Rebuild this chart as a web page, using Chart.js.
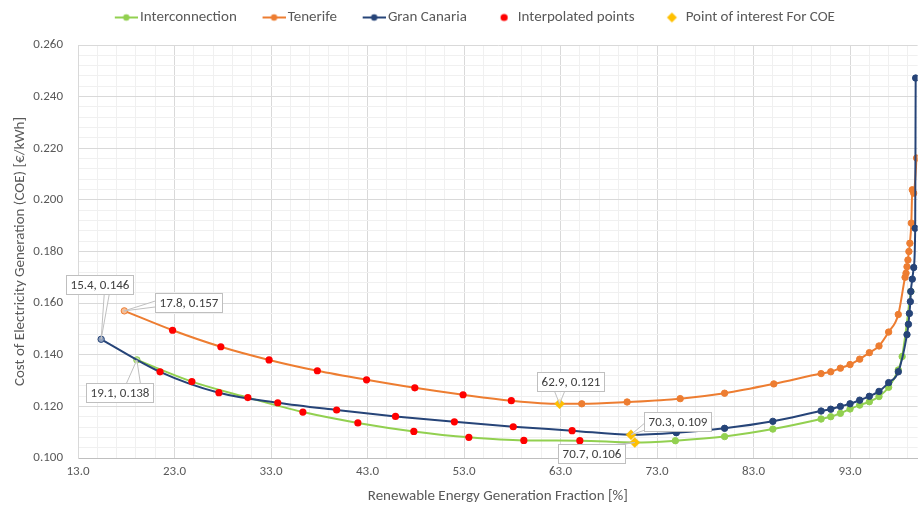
<!DOCTYPE html>
<html>
<head>
<meta charset="utf-8">
<title>Cost of electricity generation vs renewable fraction</title>
<script src="https://cdn.jsdelivr.net/npm/chart.js@4.4.1/dist/chart.umd.min.js"></script>
<style>
  html, body { margin: 0; padding: 0; background: #ffffff; }
  #wrap { width: 921px; height: 508px; }
</style>
</head>
<body>
<div id="wrap"><canvas id="chart" width="921" height="508"></canvas></div>
<script>
// ---- Data: renewable energy fraction [%] vs cost of electricity generation [€/kWh] ----

// Interconnection scenario
const interconnectionStart = [19.1, 0.138];
const interconnectionInterp = [[24.8, 0.1296], [30.6, 0.1234], [36.3, 0.1178], [42.0, 0.1136],
  [47.8, 0.1103], [53.5, 0.1080], [59.2, 0.1068], [65.0, 0.1067]];
const interconnectionPOI = [70.7, 0.106];
const interconnectionTail = [[74.9, 0.1067], [80.0, 0.1083], [85.0, 0.1112], [90.0, 0.1151],
  [91.0, 0.1160], [92.0, 0.1173], [93.0, 0.1190], [94.0, 0.1205], [95.0, 0.1218], [96.0, 0.1238],
  [97.0, 0.1274], [98.0, 0.1341], [98.4, 0.1393], [99.3, 0.1645]];

// Tenerife
const tenerifeStart = [17.8, 0.157];
const tenerifeInterp = [[22.8, 0.1495], [27.8, 0.1431], [32.8, 0.1380], [37.8, 0.1338],
  [42.9, 0.1303], [47.9, 0.1272], [52.9, 0.1245], [57.9, 0.1222]];
const tenerifePOI = [62.9, 0.121];
const tenerifeTail = [[65.2, 0.1210], [69.9, 0.1217], [75.4, 0.1230], [80.0, 0.1251], [85.1, 0.1287],
  [90.0, 0.1327], [91.0, 0.1334], [92.0, 0.1348], [93.0, 0.1362], [94.0, 0.1383], [95.0, 0.1408],
  [96.0, 0.1434], [97.0, 0.1488], [98.0, 0.1556], [98.7, 0.1700], [98.8, 0.1716], [98.9, 0.1741],
  [99.0, 0.1767], [99.1, 0.1800], [99.2, 0.1832], [99.35, 0.1910], [99.45, 0.2039], [99.6, 0.2026],
  [99.9, 0.2162]];

// Gran Canaria
const granCanariaStart = [15.4, 0.146];
const granCanariaInterp = [[21.5, 0.1334], [27.6, 0.1253], [33.7, 0.1214], [39.8, 0.1186],
  [45.9, 0.1161], [52.0, 0.1140], [58.1, 0.1121], [64.2, 0.1106]];
const granCanariaPOI = [70.3, 0.109];
const granCanariaTail = [[75.0, 0.1098], [80.0, 0.1115], [85.0, 0.1142], [90.0, 0.1182],
  [91.0, 0.1189], [92.0, 0.1200], [93.0, 0.1210], [94.0, 0.1224], [95.0, 0.1239], [96.0, 0.1258],
  [97.0, 0.1292], [98.0, 0.1334], [98.9, 0.1478], [99.05, 0.1518], [99.15, 0.1560], [99.25, 0.1606],
  [99.3, 0.1645], [99.45, 0.1693], [99.6, 0.1738], [99.75, 0.1890], [99.8, 0.2472]];

// Axis ticks
const xTicks = [13, 23, 33, 43, 53, 63, 73, 83, 93];
const yTicks = [0.100, 0.120, 0.140, 0.160, 0.180, 0.200, 0.220, 0.240, 0.260];

// ---- Styling ----
const GREEN = '#92D050', ORANGE = '#ED7D31', NAVY = '#264478', RED = '#FF0000', GOLD = '#FFC000';
const TEXT = '#595959';
const FONT = 'Carlito, Calibri, Lato, sans-serif';
const LABEL_SIZE = 15;
const X_MIN = 13, X_MAX = 100, X_MINOR = 2;
const Y_MIN = 0.100, Y_MAX = 0.260, Y_MINOR = 0.004;

Chart.defaults.font.family = FONT;
Chart.defaults.color = TEXT;

const toXY = pairs => pairs.map(([x, y]) => ({ x, y }));

// A series line passes through its start, interpolated points, point of interest and tail;
// markers are shown only on the start and tail points.
function seriesData(start, interp, poi, tail) {
  return toXY([start, ...interp, poi, ...tail]);
}
function seriesRadius(interp, tail, r) {
  return [r, ...interp.map(() => 0), 0, ...tail.map(() => r)];
}
function seriesLine(label, color, startFill, start, interp, poi, tail, order) {
  const radius = seriesRadius(interp, tail, 3.2);
  return {
    label, order,
    data: seriesData(start, interp, poi, tail),
    showLine: true,
    borderColor: color,
    backgroundColor: color,
    borderWidth: 2,
    cubicInterpolationMode: 'monotone',
    pointRadius: radius,
    pointHoverRadius: radius,
    pointBackgroundColor: radius.map((r, i) => i === 0 ? startFill : color),
    pointBorderColor: color,
    pointBorderWidth: 1
  };
}

// Minor grid positions
const xGrid = [];
for (let v = X_MIN; v < X_MAX; v += X_MINOR) xGrid.push(v);
const yGrid = [];
for (let k = 0; Y_MIN + k * Y_MINOR <= Y_MAX + 1e-9; k++) yGrid.push(Math.round((Y_MIN + k * Y_MINOR) * 1000) / 1000);
const isXMajor = v => xTicks.includes(v);
const isYMajor = v => yTicks.some(t => Math.abs(t - v) < 1e-6);

// Legend icons: short line with a marker, or a lone marker
function legendIcon(color, kind) {
  const W = 44, H = 14, seg = 23;
  const c = document.createElement('canvas');
  c.width = W; c.height = H;
  const g = c.getContext('2d');
  const cx = W - seg / 2, cy = H / 2;
  g.fillStyle = color; g.strokeStyle = color;
  if (kind === 'line') {
    g.lineWidth = 2;
    g.beginPath(); g.moveTo(W - seg, cy); g.lineTo(W, cy); g.stroke();
    g.beginPath(); g.arc(cx, cy, 3.2, 0, Math.PI * 2); g.fill();
  } else if (kind === 'dot') {
    g.beginPath(); g.arc(cx, cy, 3.6, 0, Math.PI * 2); g.fill();
  } else {
    g.beginPath(); g.moveTo(cx, cy - 5); g.lineTo(cx + 5, cy); g.lineTo(cx, cy + 5); g.lineTo(cx - 5, cy); g.closePath(); g.fill();
  }
  return c;
}
const legendIcons = [
  legendIcon(GREEN, 'line'), legendIcon(ORANGE, 'line'), legendIcon(NAVY, 'line'),
  legendIcon(RED, 'dot'), legendIcon(GOLD, 'diamond')
];

// Fixed legend band height and horizontal shift
const legendFrame = {
  id: 'legendFrame',
  afterInit(chart, args, opts) {
    const lg = chart.legend;
    const fit = lg.fit;
    lg.fit = function () { fit.call(this); this.height = opts.height; };
  },
  afterLayout(chart, args, opts) {
    chart.legend.left += opts.shift;
    chart.legend.right += opts.shift;
  }
};

// Pin the horizontal extent of the plot area
const plotFrame = {
  id: 'plotFrame',
  afterLayout(chart, args, opts) {
    const area = chart.chartArea;
    const x = chart.scales.x;
    area.left = x.left = opts.left;
    area.right = x.right = opts.right;
    area.width = x.width = opts.right - opts.left;
    x.configure();
  }
};

// Value callouts with a pointer wedge
const callouts = {
  id: 'callouts',
  afterDatasetsDraw(chart, args, opts) {
    const { ctx, scales: { x, y } } = chart;
    ctx.save();
    ctx.font = opts.font;
    opts.items.forEach(it => {
      const [vx, vy] = it.point;
      const px = x.getPixelForValue(vx), py = y.getPixelForValue(vy);
      const text = `${vx.toFixed(1)}, ${vy.toFixed(3)}`;
      const w = Math.round(ctx.measureText(text).width + 2 * opts.padX);
      const h = opts.height;
      const L = Math.round(px + it.dx - w / 2) + 0.5, T = Math.round(py + it.dy - h / 2) + 0.5;
      const R = L + w, B = T + h;
      const half = it.spread / 2;
      let b1, b2;
      if (it.side === 'bottom') { const bx = L + w * it.at; b1 = [bx - half, B]; b2 = [bx + half, B]; }
      else if (it.side === 'top') { const bx = L + w * it.at; b1 = [bx - half, T]; b2 = [bx + half, T]; }
      else if (it.side === 'left') { const by = T + h * it.at; b1 = [L, by - half]; b2 = [L, by + half]; }
      else { const by = T + h * it.at; b1 = [R, by - half]; b2 = [R, by + half]; }
      ctx.beginPath();
      ctx.moveTo(b1[0], b1[1]); ctx.lineTo(px, py); ctx.lineTo(b2[0], b2[1]); ctx.closePath();
      ctx.fillStyle = 'rgba(255,255,255,0.7)'; ctx.fill();
      ctx.beginPath();
      ctx.moveTo(b1[0], b1[1]); ctx.lineTo(px, py); ctx.lineTo(b2[0], b2[1]);
      ctx.strokeStyle = opts.border; ctx.lineWidth = 1; ctx.stroke();
      ctx.fillStyle = '#ffffff'; ctx.fillRect(L, T, w, h);
      ctx.strokeRect(L, T, w, h);
      ctx.fillStyle = opts.color; ctx.textAlign = 'center'; ctx.textBaseline = 'middle';
      ctx.fillText(text, (L + R) / 2, (T + B) / 2 + 0.5);
    });
    ctx.restore();
  }
};

new Chart(document.getElementById('chart'), {
  type: 'scatter',
  data: {
    datasets: [
      seriesLine('Interconnection', GREEN, '#c9e7a7', interconnectionStart, interconnectionInterp, interconnectionPOI, interconnectionTail, 4),
      seriesLine('Tenerife', ORANGE, '#f6be98', tenerifeStart, tenerifeInterp, tenerifePOI, tenerifeTail, 3),
      seriesLine('Gran Canaria', NAVY, '#8fa0bd', granCanariaStart, granCanariaInterp, granCanariaPOI, granCanariaTail, 2),
      {
        label: 'Interpolated points', order: 1,
        data: toXY([...interconnectionInterp, ...tenerifeInterp, ...granCanariaInterp]),
        showLine: false, pointRadius: 3.6, pointHoverRadius: 3.6,
        backgroundColor: RED, borderColor: RED, pointBorderWidth: 0
      },
      {
        label: 'Point of interest For COE', order: 0,
        data: toXY([interconnectionPOI, tenerifePOI, granCanariaPOI]),
        showLine: false, pointStyle: 'rectRot', pointRadius: 5, pointHoverRadius: 5,
        backgroundColor: GOLD, borderColor: '#f0b400', pointBorderWidth: 0.5
      }
    ]
  },
  options: {
    responsive: false,
    animation: false,
    events: [],
    layout: { padding: { left: 0, right: 3, top: 0, bottom: 0 } },
    scales: {
      x: {
        type: 'linear', min: X_MIN, max: X_MAX,
        afterBuildTicks: s => { s.ticks = xGrid.map(v => ({ value: v })); },
        afterFit: s => { s.height = 50; },
        ticks: {
          autoSkip: false, maxRotation: 0, padding: 6, color: TEXT,
          font: { size: 13 },
          callback: v => isXMajor(v) ? v.toFixed(1) : ''
        },
        grid: {
          drawTicks: false,
          color: c => isXMajor(c.tick.value) ? '#d9d9d9' : '#f0f0f0',
          lineWidth: 1
        },
        border: { display: true, color: '#bfbfbf', width: 1 },
        title: {
          display: true, text: 'Renewable Energy Generation Fraction [%]',
          color: TEXT, font: { size: LABEL_SIZE }, padding: { top: 0, bottom: 3 }
        }
      },
      y: {
        type: 'linear', min: Y_MIN, max: Y_MAX,
        afterBuildTicks: s => { s.ticks = yGrid.map(v => ({ value: v })); },
        afterFit: s => { s.width = 78; },
        ticks: {
          autoSkip: false, padding: 15, color: TEXT,
          font: { size: 13 },
          callback: v => isYMajor(v) ? v.toFixed(3) : ''
        },
        grid: {
          drawTicks: false,
          color: c => isYMajor(c.tick.value) ? '#d9d9d9' : '#f0f0f0',
          lineWidth: 1
        },
        border: { display: true, color: '#d9d9d9', width: 1 },
        title: {
          display: true, text: 'Cost of Electricity Generation (COE) [€/kWh]',
          color: TEXT, font: { size: LABEL_SIZE }, padding: { top: 11, bottom: 0 }
        }
      }
    },
    plugins: {
      legend: {
        position: 'top',
        labels: {
          usePointStyle: true, pointStyleWidth: 33.5, padding: 10,
          color: TEXT, font: { size: LABEL_SIZE },
          sort: (a, b) => a.datasetIndex - b.datasetIndex,
          generateLabels: chart => Chart.defaults.plugins.legend.labels.generateLabels(chart)
            .map(item => Object.assign(item, { pointStyle: legendIcons[item.datasetIndex] }))
        }
      },
      tooltip: { enabled: false },
      legendFrame: { height: 45, shift: 8 },
      plotFrame: { left: 78, right: 917.6 },
      callouts: {
        font: '13px ' + FONT, color: '#404040', border: '#bfbfbf', padX: 4, height: 19,
        items: [
          { point: granCanariaStart, dx: -2, dy: -54.5, side: 'bottom', at: 0.6, spread: 5 },
          { point: tenerifeStart, dx: 64, dy: -8.3, side: 'left', at: 0.55, spread: 6 },
          { point: interconnectionStart, dx: -17, dy: 32.5, side: 'top', at: 0.7, spread: 14 },
          { point: tenerifePOI, dx: 11, dy: -22, side: 'bottom', at: 0.33, spread: 10 },
          { point: granCanariaPOI, dx: 47, dy: -13.7, side: 'left', at: 0.75, spread: 7 },
          { point: interconnectionPOI, dx: -43.3, dy: 11, side: 'top', at: 0.9, spread: 8 }
        ]
      }
    }
  },
  plugins: [legendFrame, plotFrame, callouts]
});
</script>
</body>
</html>
